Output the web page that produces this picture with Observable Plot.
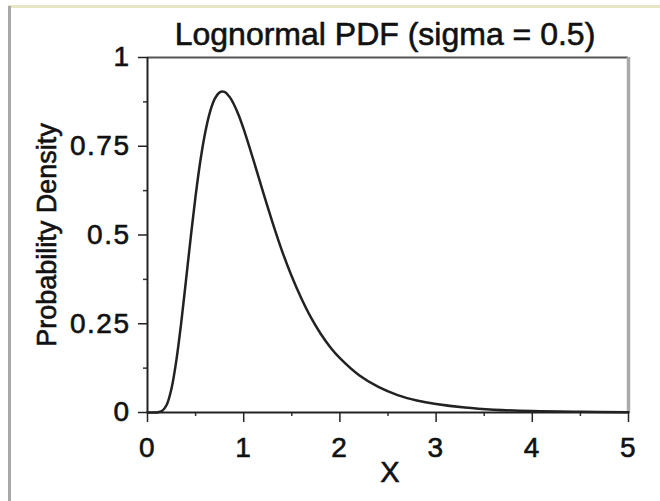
<!DOCTYPE html>
<html>
<head>
<meta charset="utf-8">
<script src="https://cdn.jsdelivr.net/npm/d3@7"></script>
<script src="https://cdn.jsdelivr.net/npm/@observablehq/plot@0.6"></script>
<style>
  html, body { margin: 0; padding: 0; background: #ffffff; }
  #wrap { position: relative; width: 660px; height: 501px; overflow: hidden; }
  #topline { position: absolute; left: 8px; top: 5px; width: 652px; height: 3px; background: #e6e6c4; }
  #leftline { position: absolute; left: 8px; top: 6px; width: 3px; height: 495px; background: #a8a8a8; }
  svg { position: absolute; left: 0; top: 0; font-family: "Liberation Sans", Arial, Helvetica, sans-serif; }
  svg text { stroke: #111; stroke-width: 0.6px; }
  svg g[aria-label$="tick label"] text { letter-spacing: 1.5px; }
</style>
</head>
<body>
<div id="wrap"><div id="topline"></div><div id="leftline"></div></div>
<script>
const title = "Lognormal PDF (sigma = 0.5)";
const xLabel = "X";
const yLabel = "Probability Density";
const xTicks = [0, 1, 2, 3, 4, 5];
const xMinorTicks = [0.5, 1.5, 2.5, 3.5, 4.5];
const yTicks = [0, 0.25, 0.5, 0.75, 1];
const yMinorTicks = [0.125, 0.375, 0.625, 0.875];
const xs = [0, 0.05, 0.1, 0.15, 0.2, 0.25, 0.3, 0.35, 0.4, 0.45, 0.5, 0.55, 0.6, 0.65, 0.7, 0.75, 0.8, 0.85, 0.9, 0.95, 1.0, 1.1, 1.2, 1.3, 1.4, 1.5, 1.6, 1.7, 1.8, 1.9, 2.0, 2.2, 2.4, 2.6, 2.8, 3.0, 3.3, 3.6, 4.0, 4.5, 5.0];
const ys = [0, 0, 0.0002, 0.004, 0.022, 0.068, 0.147, 0.252, 0.372, 0.495, 0.610, 0.710, 0.789, 0.847, 0.884, 0.902, 0.903, 0.890, 0.867, 0.836, 0.798, 0.712, 0.622, 0.535, 0.454, 0.383, 0.321, 0.267, 0.222, 0.184, 0.153, 0.105, 0.072, 0.049, 0.034, 0.024, 0.014, 0.008, 0.004, 0.002, 0.001];

const data = xs.map((x, i) => ({x, y: ys[i]}));
const font = "Liberation Sans, Arial, Helvetica, sans-serif";

const chart = Plot.plot({
  width: 660,
  height: 501,
  marginLeft: 147,
  marginRight: 32,
  marginTop: 57,
  marginBottom: 89,
  style: {fontFamily: font, fontSize: "28px", color: "#111", background: "transparent", overflow: "visible"},
  x: {domain: [0, 5]},
  y: {domain: [0, 1]},
  marks: [
    Plot.ruleY([1], {stroke: "#555", strokeWidth: 2}),
    Plot.ruleX([5], {stroke: "#aaa", strokeWidth: 3.5}),
    Plot.axisY(yMinorTicks, {tickSize: 4, tickFormat: () => "", stroke: "#333", strokeWidth: 1.5, label: null}),
    Plot.axisX(xMinorTicks, {tickSize: 4, tickFormat: () => "", stroke: "#333", strokeWidth: 1.5, label: null}),
    Plot.axisY(yTicks, {tickSize: 9, tickPadding: 8, tickFormat: d => String(d), stroke: "#222", strokeWidth: 1.5, fontSize: 28, fill: "#111", label: null}),
    Plot.axisX(xTicks, {tickSize: 10, tickPadding: 15, tickFormat: d => String(d), stroke: "#222", strokeWidth: 1.5, fontSize: 28, fill: "#111", label: null}),
    Plot.ruleX([0], {stroke: "#222", strokeWidth: 2}),
    Plot.ruleY([0], {stroke: "#222", strokeWidth: 2}),
    Plot.line(data, {x: "x", y: "y", curve: "catmull-rom", stroke: "#222", strokeWidth: 2.5}),
    Plot.text([title], {frameAnchor: "top", lineAnchor: "middle", textAnchor: "middle", dx: -3, dy: -23, fontSize: 32, fill: "#111", text: d => d}),
    Plot.text([xLabel], {frameAnchor: "bottom", lineAnchor: "middle", textAnchor: "middle", dx: 2, dy: 60, fontSize: 29, fill: "#111", text: d => d}),
    Plot.text([yLabel], {frameAnchor: "left", lineAnchor: "middle", textAnchor: "middle", dx: -100, dy: 0, rotate: -90, fontSize: 27, fill: "#111", text: d => d})
  ]
});
document.getElementById("wrap").appendChild(chart);
</script>
</body>
</html>
